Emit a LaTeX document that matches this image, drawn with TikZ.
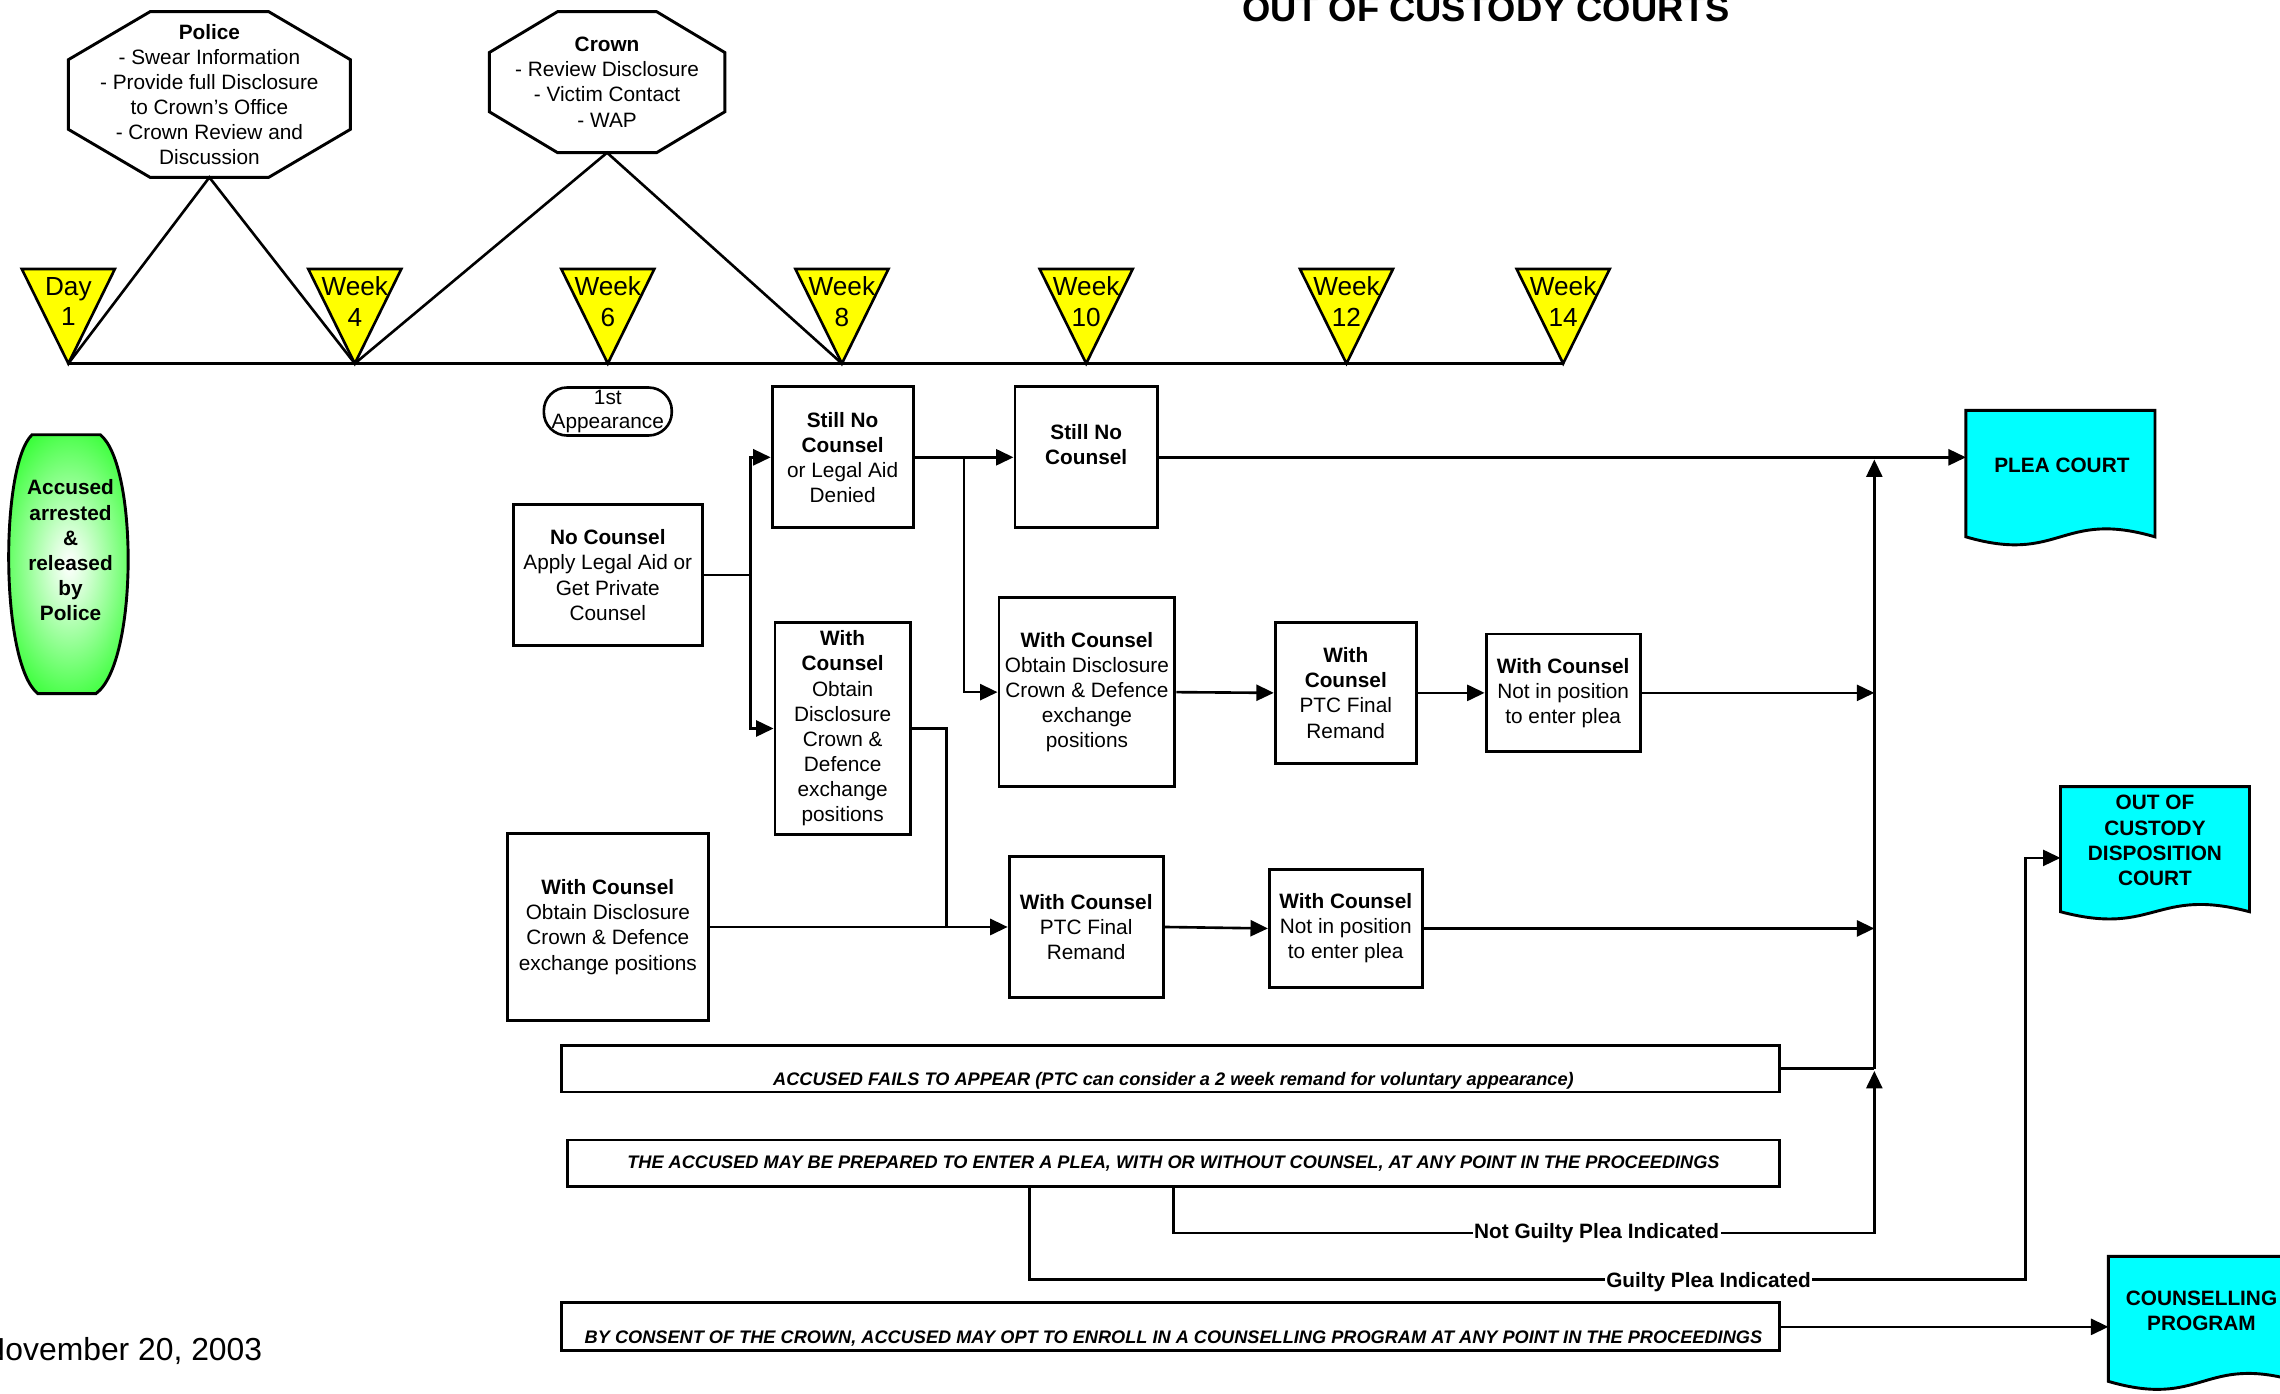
\documentclass[tikz,border=0pt]{standalone}
\usepackage{fontspec}
\setmainfont{Liberation Sans}
\usetikzlibrary{arrows.meta,calc}
\definecolor{triyellow}{HTML}{FFFF00}
\definecolor{doccyan}{HTML}{00FFFF}
\definecolor{accgreen}{HTML}{00FF00}
\pgfdeclareradialshading{accshade}{\pgfpoint{0bp}{0bp}}{rgb(0bp)=(1,1,1); rgb(6bp)=(0.85,1,0.85); rgb(36bp)=(0,1,0); rgb(50bp)=(0,1,0)}
\newcommand{\bodyfont}{\fontsize{14.3}{17.3}\selectfont}
\newcommand{\docshape}[2]{\filldraw[docstyle] (#1.north west) -- (#1.north east) -- (#1.south east) .. controls ($(#1.south)+(0,-1.73*#2)$) and ($(#1.south)+(0,1.73*#2)$) .. (#1.south west) -- cycle;}
\newcommand{\octo}[1]{\draw[octstyle] ($(#1.north west)!0.29!(#1.north east)$) -- ($(#1.north west)!0.71!(#1.north east)$) -- ($(#1.north east)!0.29!(#1.south east)$) -- ($(#1.north east)!0.71!(#1.south east)$) -- ($(#1.south east)!0.29!(#1.south west)$) -- ($(#1.south east)!0.71!(#1.south west)$) -- ($(#1.south west)!0.29!(#1.north west)$) -- ($(#1.south west)!0.71!(#1.north west)$) -- cycle;}
\begin{document}
\begin{tikzpicture}[x=1pt,y=-1pt,
  box/.style={draw,line width=2pt,inner sep=0pt,align=center,font=\bodyfont},
  ghost/.style={draw=none,inner sep=0pt,outer sep=0pt,align=center,font=\bodyfont},
  conn/.style={line width=1.8pt},
  arr/.style={line width=1.8pt,-{Triangle[length=12pt,width=11pt]}},
  tline/.style={line width=2.2pt},
  tristyle/.style={draw,fill=triyellow,line width=1.8pt},
  octstyle/.style={draw,line width=2pt},
  weektext/.style={align=center,font=\fontsize{18}{21}\selectfont,inner sep=0pt},
  banner/.style={draw,line width=2pt,inner sep=0pt,font=\fontsize{12.5}{14}\selectfont\bfseries\itshape},
  bannertext/.style={font=\fontsize{12.5}{14}\selectfont\bfseries\itshape,inner sep=0pt},
  docstyle/.style={draw,fill=doccyan,line width=2pt},
  doctext/.style={align=center,font=\bodyfont\bfseries,inner sep=0pt},
  lbl/.style={fill=white,inner sep=1pt,font=\bodyfont\bfseries},
]
\useasboundingbox (0,0) rectangle (1568,958);

% title
\node[anchor=base,font=\fontsize{25}{30}\selectfont\bfseries,inner sep=0pt] (title) at (1022,14.5) {OUT OF CUSTODY COURTS};

% octagons
\node[ghost,minimum width=194pt,minimum height=114pt] (police) at (144,65) {\textbf{Police}\\- Swear Information\\- Provide full Disclosure\\to Crown's Office\\- Crown Review and\\Discussion};
\octo{police}
\node[ghost,minimum width=162pt,minimum height=97pt] (crown) at (417.5,56.5) {\textbf{Crown}\\- Review Disclosure\\- Victim Contact\\- WAP};
\octo{crown}

% timeline triangles
\foreach \n/\cx/\a/\b in {d1/47/Day/1, w4/244/Week/4, w6/418/Week/6, w8/579/Week/8, w10/747/Week/10, w12/926/Week/12, w14/1075/Week/14}{
  \filldraw[tristyle] (\cx-32,185) -- (\cx+32,185) -- (\cx,250) -- cycle;
  \coordinate (\n) at (\cx,250);
  \node[weektext] (\n t) at (\cx,207.5) {\a\\\b};
}
\draw[tline] (d1) -- (w14);
\draw[conn] (d1) -- (police.south) -- (w4);
\draw[conn] (w4) -- (crown.south) -- (w8);

% first appearance
\node[box,line width=1.8pt,rounded corners=16pt,minimum width=88pt,minimum height=33pt,font=\fontsize{14.3}{16}\selectfont] (app) at (418,283) {1st\\Appearance};

% accused
\shade[shading=accshade] (22,299) -- (69,299) .. controls (95,320) and (95,456) .. (66,477) -- (26,477) .. controls (0,456) and (0,320) .. (22,299) -- cycle;
\draw[line width=2pt] (22,299) -- (69,299) .. controls (95,320) and (95,456) .. (66,477) -- (26,477) .. controls (0,456) and (0,320) .. (22,299) -- cycle;
\node[ghost,font=\bodyfont\bfseries] (acc) at (48.5,378.5) {Accused\\arrested\\\&\\released\\by\\Police};

% boxes
\node[box,minimum width=130pt,minimum height=97pt] (nc) at (418,395.5) {\textbf{No Counsel}\\Apply Legal Aid or\\Get Private\\Counsel};
\node[box,minimum width=97pt,minimum height=97pt] (snc1) at (579.5,314.5) {\textbf{Still No}\\\textbf{Counsel}\\or Legal Aid\\Denied};
\node[box,minimum width=98pt,minimum height=97pt] (snc2) at (747,314.5) {\textbf{Still No}\\\textbf{Counsel}\\~};
\node[box,minimum width=93pt,minimum height=146pt] (wc1) at (579.5,501) {\textbf{With}\\\textbf{Counsel}\\Obtain\\Disclosure\\Crown \&\\Defence\\exchange\\positions};
\node[box,minimum width=121pt,minimum height=130pt] (wc2) at (747.5,476) {\textbf{With Counsel}\\Obtain Disclosure\\Crown \& Defence\\exchange\\positions};
\node[box,minimum width=97pt,minimum height=97pt] (ptc2) at (925.5,476.5) {\textbf{With}\\\textbf{Counsel}\\PTC Final\\Remand};
\node[box,minimum width=106pt,minimum height=81pt] (nip2) at (1075,476.5) {\textbf{With Counsel}\\Not in position\\to enter plea};
\node[box,minimum width=138pt,minimum height=129pt] (wc3) at (418,637.5) {\textbf{With Counsel}\\Obtain Disclosure\\Crown \& Defence\\exchange positions};
\node[box,minimum width=106pt,minimum height=97pt] (ptc3) at (747,637.5) {\textbf{With Counsel}\\PTC Final\\Remand};
\node[box,minimum width=105pt,minimum height=81pt] (nip3) at (925.5,638.5) {\textbf{With Counsel}\\Not in position\\to enter plea};

% banners
\node[banner,minimum width=838pt,minimum height=32pt] (fail) at (805,735) {};
\node[bannertext,anchor=base] (failt) at (807,746.6) {ACCUSED FAILS TO APPEAR (PTC can consider a 2 week remand for voluntary appearance)};
\node[banner,minimum width=834pt,minimum height=32pt] (prep) at (807,800) {THE ACCUSED MAY BE PREPARED TO ENTER A PLEA, WITH OR WITHOUT COUNSEL, AT ANY POINT IN THE PROCEEDINGS};
\node[banner,minimum width=838pt,minimum height=33pt] (cons) at (805,912.5) {};
\node[bannertext,anchor=base] (const) at (807,923.6) {BY CONSENT OF THE CROWN, ACCUSED MAY OPT TO ENROLL IN A COUNSELLING PROGRAM AT ANY POINT IN THE PROCEEDINGS};

% document shapes
\node[ghost,minimum width=130pt,minimum height=87pt] (plea) at (1417,325.7) {};
\docshape{plea}{11}
\node[doctext] (pleat) at (1418,320) {PLEA COURT};
\node[ghost,minimum width=130pt,minimum height=86pt] (ooc) at (1482,584) {};
\docshape{ooc}{10}
\node[doctext] (ooct) at (1482,578) {OUT OF\\CUSTODY\\DISPOSITION\\COURT};
\node[ghost,minimum width=130pt,minimum height=86pt] (couns) at (1515,907) {};
\docshape{couns}{11}
\node[doctext] (counst) at (1514,901.5) {COUNSELLING\\PROGRAM};

% connectors
\draw[conn] (nc.east) -- ++(32,0) coordinate (b1);
\draw[arr] (b1) |- (snc1.west);
\draw[arr] (b1) |- (wc1.west);
\draw[arr] (snc1.east) -- (snc2.west);
\coordinate (b2) at ($(snc1.east)+(34,0)$);
\draw[arr] (b2) |- (wc2.west);
\draw[arr] (wc2.east) -- (ptc2.west);
\draw[arr] (ptc2.east) -- (nip2.west);
\draw[arr] (snc2.east) -- (snc2.east -| plea.west);
\coordinate (bustop) at (1289,314.5);
\draw[arr] (nip2.east) -- (nip2.east -| bustop);
\draw[conn] (wc1.east) -- ++(24,0) coordinate (b3) -- (b3 |- wc3.east);
\draw[arr] (wc3.east) -- (ptc3.west);
\draw[arr] (ptc3.east) -- (nip3.west);
\draw[arr] (nip3.east) -- (nip3.east -| bustop);
\draw[conn] (fail.east) -- (fail.east -| bustop) coordinate (busmid);
\draw[arr] (busmid) -- ([yshift=-1.5pt]bustop);
\coordinate (ngc) at (1289,848);
\draw[arr] (prep.south) |- (ngc) -- ([yshift=-1.5pt]busmid);
\coordinate (gc) at (1393,880);
\draw[arr] ([xshift=-99pt]prep.south) |- (gc) |- ([yshift=-6pt]ooc.west);
\node[lbl] (ngl) at (1098,848) {Not Guilty Plea Indicated};
\node[lbl] (gl) at (1175,882) {Guilty Plea Indicated};
\draw[arr] (cons.east) -- (cons.east -| couns.west);

% date
\node[anchor=base east,font=\fontsize{21.9}{26}\selectfont,inner sep=0pt] (date) at (180.5,935.3) {November 20, 2003};
\end{tikzpicture}
\end{document}
